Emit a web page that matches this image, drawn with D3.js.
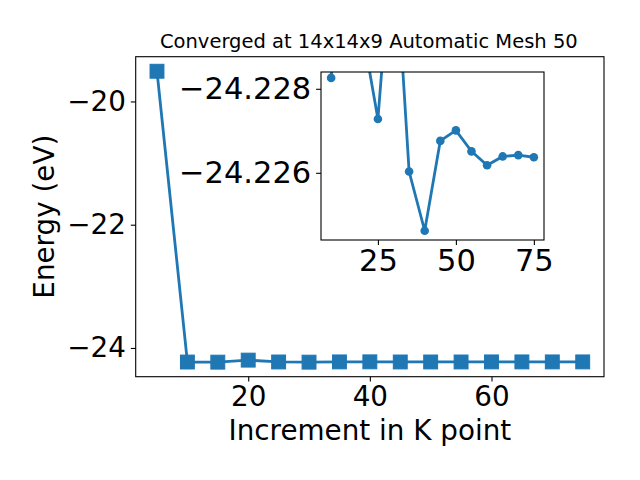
<!DOCTYPE html>
<html>
<head>
<meta charset="utf-8">
<script src="https://cdn.jsdelivr.net/npm/d3@7"></script>
<style>
  body { margin: 0; background: #fff; }
  text { font-family: "DejaVu Sans", sans-serif; fill: #000; }
</style>
</head>
<body>
<div id="chart"></div>
<script>
// Main plot data
const kPoints = [5, 10, 15, 20, 25, 30, 35, 40, 45, 50, 55, 60, 65, 70, 75];
const mainEnergy = [-19.51, -24.228, -24.23, -24.197, -24.227, -24.23, -24.226, -24.225, -24.227, -24.227, -24.227, -24.226, -24.226, -24.226, -24.226];
const mainXTicks = [20, 40, 60];
const mainYTicks = [-24, -22, -20];

// Inset (zoom) data
const insetK = [10, 15, 20, 25, 30, 35, 40, 45, 50, 55, 60, 65, 70, 75];
const insetEnergy = [-24.22826, -24.2330, -24.2294, -24.22728, -24.2320, -24.22603, -24.22462, -24.22676, -24.22701, -24.22651, -24.22618, -24.22639, -24.22642, -24.22637];
const insetYLim = [-24.22840, -24.22440];
const insetXTicks = [25, 50, 75];
const insetYTicks = [-24.228, -24.226];

const width = 640;
const height = 480;
const blue = "#1f77b4";

const svg = d3.select("#chart")
    .append("svg")
    .attr("width", width)
    .attr("height", height);

// Main axes box
const main = { left: 135.7, right: 604, top: 56.7, bottom: 376.7 };

function padded(ext) {
    const p = (ext[1] - ext[0]) * 0.05;
    return [ext[0] - p, ext[1] + p];
}

function styleAxis(g, size) {
    g.select(".domain").remove();
    g.selectAll(".tick line").attr("stroke", "#000").attr("stroke-width", 1.1);
    g.selectAll(".tick text").attr("font-size", size).attr("font-family", "DejaVu Sans");
}

const x = d3.scaleLinear()
    .domain(padded(d3.extent(kPoints)))
    .range([main.left, main.right]);

const y = d3.scaleLinear()
    .domain(padded(d3.extent(mainEnergy)))
    .range([main.bottom, main.top]);

const fmt = d3.format("d");

// x axis
const gx = svg.append("g")
    .attr("transform", `translate(0,${main.bottom})`)
    .call(d3.axisBottom(x).tickValues(mainXTicks).tickFormat(fmt).tickSizeOuter(0).tickSize(4.9).tickPadding(4.9));
styleAxis(gx, "27.8px");

// y axis
const gy = svg.append("g")
    .attr("transform", `translate(${main.left},0)`)
    .call(d3.axisLeft(y).tickValues(mainYTicks).tickFormat(fmt).tickSizeOuter(0).tickSize(4.9).tickPadding(4.9));
styleAxis(gy, "27.8px");

// line + square markers
const line = d3.line()
    .x((d, i) => x(kPoints[i]))
    .y(d => y(d));

svg.append("path")
    .datum(mainEnergy)
    .attr("fill", "none")
    .attr("stroke", blue)
    .attr("stroke-width", 2.8)
    .attr("d", line);

const ms = 13.9;
svg.selectAll(".sq")
    .data(mainEnergy)
    .enter()
    .append("rect")
    .attr("class", "sq")
    .attr("x", (d, i) => x(kPoints[i]) - ms / 2)
    .attr("y", d => y(d) - ms / 2)
    .attr("width", ms)
    .attr("height", ms)
    .attr("fill", blue)
    .attr("stroke", blue)
    .attr("stroke-width", 1);

// spines
svg.append("rect")
    .attr("x", main.left)
    .attr("y", main.top)
    .attr("width", main.right - main.left)
    .attr("height", main.bottom - main.top)
    .attr("fill", "none")
    .attr("stroke", "#000")
    .attr("stroke-width", 1.1);

// labels and title
svg.append("text")
    .attr("x", (main.left + main.right) / 2)
    .attr("y", 440)
    .attr("text-anchor", "middle")
    .attr("font-size", "27.8px")
    .text("Increment in K point");

svg.append("text")
    .attr("transform", `translate(54,${(main.top + main.bottom) / 2}) rotate(-90)`)
    .attr("text-anchor", "middle")
    .attr("font-size", "27.8px")
    .text("Energy (eV)");

svg.append("text")
    .attr("x", (main.left + main.right) / 2 - 1)
    .attr("y", 48)
    .attr("text-anchor", "middle")
    .attr("font-size", "19.5px")
    .text("Converged at 14x14x9 Automatic Mesh 50");

// Inset axes
const inset = { left: 321, right: 544, top: 72, bottom: 240 };

const ix = d3.scaleLinear()
    .domain(padded(d3.extent(insetK.filter((k, i) => insetEnergy[i] >= insetYLim[0]))))
    .range([inset.left, inset.right]);

// inverted y axis, as in the reference
const iy = d3.scaleLinear()
    .domain(insetYLim)
    .range([inset.top, inset.bottom]);

svg.append("rect")
    .attr("x", inset.left)
    .attr("y", inset.top)
    .attr("width", inset.right - inset.left)
    .attr("height", inset.bottom - inset.top)
    .attr("fill", "#fff");

svg.append("clipPath")
    .attr("id", "insetClip")
    .append("rect")
    .attr("x", inset.left)
    .attr("y", inset.top)
    .attr("width", inset.right - inset.left)
    .attr("height", inset.bottom - inset.top);

const ig = svg.append("g").attr("clip-path", "url(#insetClip)");

ig.append("path")
    .datum(insetEnergy)
    .attr("fill", "none")
    .attr("stroke", blue)
    .attr("stroke-width", 2.8)
    .attr("d", d3.line().x((d, i) => ix(insetK[i])).y(d => iy(d)));

ig.selectAll(".dot")
    .data(insetEnergy)
    .enter()
    .append("circle")
    .attr("class", "dot")
    .attr("cx", (d, i) => ix(insetK[i]))
    .attr("cy", d => iy(d))
    .attr("r", 4.3)
    .attr("fill", blue);

const igx = svg.append("g")
    .attr("transform", `translate(0,${inset.bottom})`)
    .call(d3.axisBottom(ix).tickValues(insetXTicks).tickFormat(fmt).tickSizeOuter(0).tickSize(4.9).tickPadding(4.9));
styleAxis(igx, "30.5px");

const igy = svg.append("g")
    .attr("transform", `translate(${inset.left},0)`)
    .call(d3.axisLeft(iy).tickValues(insetYTicks).tickFormat(d3.format(".3f")).tickSizeOuter(0).tickSize(4.9).tickPadding(4.9));
styleAxis(igy, "30.5px");

svg.append("rect")
    .attr("x", inset.left)
    .attr("y", inset.top)
    .attr("width", inset.right - inset.left)
    .attr("height", inset.bottom - inset.top)
    .attr("fill", "none")
    .attr("stroke", "#000")
    .attr("stroke-width", 1.1);
</script>
</body>
</html>
